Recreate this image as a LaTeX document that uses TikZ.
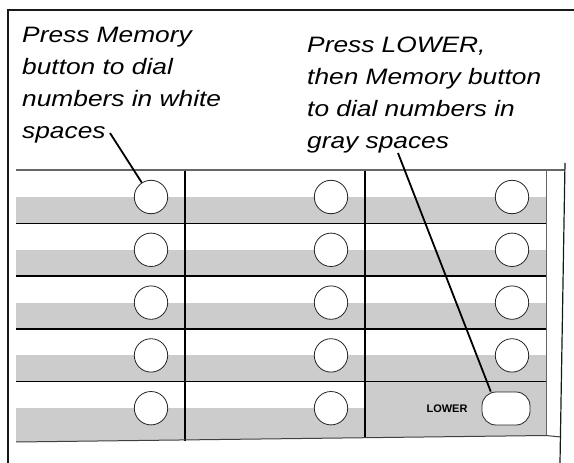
\documentclass[tikz,border=0pt]{standalone}
\usepackage{fontspec}
\usepackage{tikz}
\newfontfamily\notefont[FakeStretch=1.18]{Liberation Sans}
\newfontfamily\keyfont{Liberation Sans}

\begin{document}
\begin{tikzpicture}[
  x=1pt, y=-1pt,
  band/.style={fill=black!20, draw=none},
  rowline/.style={line width=1.3pt, draw=black},
  colline/.style={line width=1.1pt, draw=black},
  memkey/.style={circle, draw=black!85, fill=white, minimum size=33.4pt, inner sep=0pt, line width=0.8pt},
  lowerbtn/.style={rectangle, draw=black!85, fill=white, minimum width=48pt, minimum height=33pt, rounded corners=14pt, inner sep=0pt, line width=0.8pt},
  note/.style={align=left, anchor=north west, inner sep=0pt, font=\notefont\itshape\fontsize{22.3}{32}\selectfont},
  callout/.style={line width=1.8pt, draw=black}
]
\useasboundingbox (0,0) rectangle (574,463);

% Outer frame
\draw[line width=2.5pt, black!90] (8,463) -- (8,10) -- (574,10);

% Gray bands (lower half of every row)
\foreach \r in {1,...,4} {
  \pgfmathsetmacro{\yc}{197+52.8*(\r-1)}
  \pgfmathsetmacro{\yb}{223.3+52.8*(\r-1)}
  \fill[band] (16,\yc) rectangle (546,\yb);
}
\fill[band] (16,408.2) -- (546,408.2) -- (546,435.5) -- (16,442) -- cycle;
\fill[band] (365,381.7) rectangle (546,409);

% Row dividers
\foreach \r in {1,...,4} {
  \pgfmathsetmacro{\yb}{223.3+52.8*(\r-1)}
  \draw[rowline] (16,\yb) -- (546,\yb);
}

% Column dividers
\draw[colline] (185,170) -- (185,441);
\draw[colline] (365,170) -- (365,438);

% Panel edges
\draw[line width=1.8pt, black!60] (16,170) -- (565,170);
\draw[line width=0.6pt, black!60] (546,171) -- (546,435.5);
\draw[line width=1pt, black!75] (16,442) -- (546,435.5) -- (561,437);
\draw[line width=1.2pt, black!90] (565,163) -- (560,463);

% Memory keys
\foreach \r in {1,...,4} {
  \pgfmathsetmacro{\yc}{197+52.8*(\r-1)}
  \foreach \c/\x in {1/151,2/331,3/512}
    \node[memkey] (k\r\c) at (\x,\yc) {};
}
\node[memkey] (k51) at (151,408.2) {};
\node[memkey] (k52) at (331,408.2) {};

% LOWER key
\node[lowerbtn] (lowerkey) at (506,408.5) {};
\node[inner sep=0pt, font=\keyfont\bfseries\fontsize{11}{13}\selectfont] (lowertxt) at (447,409) {LOWER};

% Notes
\node[note] (notewhite) at (22,26.7) {Press Memory\\button to dial\\numbers in white\\spaces};
\node[note] (notegray) at (307,36.7) {Press LOWER,\\then Memory button\\to dial numbers in\\gray spaces};

% Callouts
\coordinate (tipwhite) at (110,133);
\coordinate (tipgray) at (398,153);
\draw[callout] (tipwhite) -- (k11);
\draw[callout] (tipgray) -- (lowerkey.132);
\end{tikzpicture}
\end{document}
